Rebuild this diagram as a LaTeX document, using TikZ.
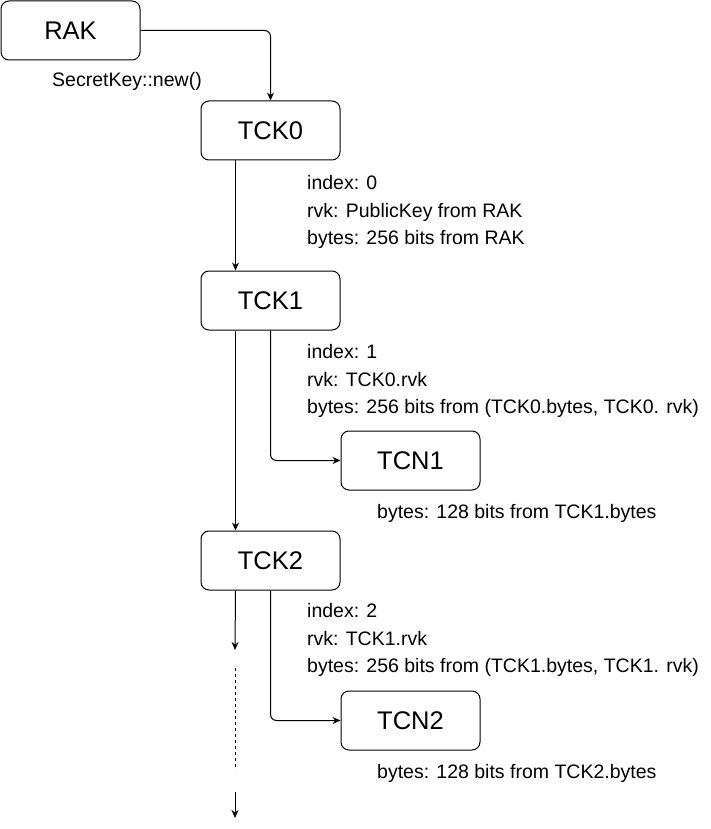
\documentclass[tikz,border=0pt]{standalone}
\usepackage{fontspec}
\setmainfont{Liberation Sans}
\usetikzlibrary{arrows.meta}
\begin{document}
\begin{tikzpicture}[x=1pt,y=-1pt,
  box/.style={draw, rounded corners=8pt, minimum width=139pt, minimum height=59pt, inner sep=0pt, line width=1pt, font=\fontsize{25.5}{28}\selectfont},
  lbl/.style={font=\fontsize{19.5}{27.5}\selectfont, align=left, anchor=west, inner sep=0pt},
  conn/.style={line width=1pt, rounded corners=6pt, -{Stealth[length=8pt,width=7pt]}}]
\useasboundingbox (0,0) rectangle (711,829);
\node[box] (rak) at (70.5,30.5) {RAK};
\node[box] (tck0) at (270.5,130.5) {TCK0};
\node[box] (tck1) at (270.5,300.5) {TCK1};
\node[box] (tcn1) at (410.5,460.5) {TCN1};
\node[box] (tck2) at (270.5,560.5) {TCK2};
\node[box] (tcn2) at (410.5,720.5) {TCN2};

\node[lbl] (l0) at (52,81) {SecretKey::new()};
\node[lbl] (l1) at (307,212) {index: 0\\rvk: PublicKey from RAK\\bytes: 256 bits from RAK};
\node[lbl] (l2) at (307,381) {index: 1\\rvk: TCK0.rvk\\bytes: 256 bits from (TCK0.bytes, TCK0. rvk)};
\node[lbl] (l3) at (377,513) {bytes: 128 bits from TCK1.bytes};
\node[lbl] (l4) at (307,640) {index: 2\\rvk: TCK1.rvk\\bytes: 256 bits from (TCK1.bytes, TCK1. rvk)};
\node[lbl] (l5) at (377,773) {bytes: 128 bits from TCK2.bytes};

\coordinate (e1) at (235,650);
\coordinate (d1) at (235,668);
\coordinate (d2) at (235,770);
\coordinate (s2) at (235,792);
\coordinate (e2) at (235,818);

\draw[conn] (rak.east) -| (tck0.north);
\draw[conn] ([xshift=35pt]tck0.south west) -- ([xshift=35pt]tck1.north west);
\draw[conn] ([xshift=35pt]tck1.south west) -- ([xshift=35pt]tck2.north west);
\draw[conn] (tck1.south) |- (tcn1.west);
\draw[conn] (tck2.south) |- (tcn2.west);
\draw[conn] ([xshift=35pt]tck2.south west) -- (e1);
\draw[line width=0.8pt, dash pattern=on 3pt off 3pt] (d1) -- (d2);
\draw[conn] (s2) -- (e2);
\end{tikzpicture}
\end{document}
